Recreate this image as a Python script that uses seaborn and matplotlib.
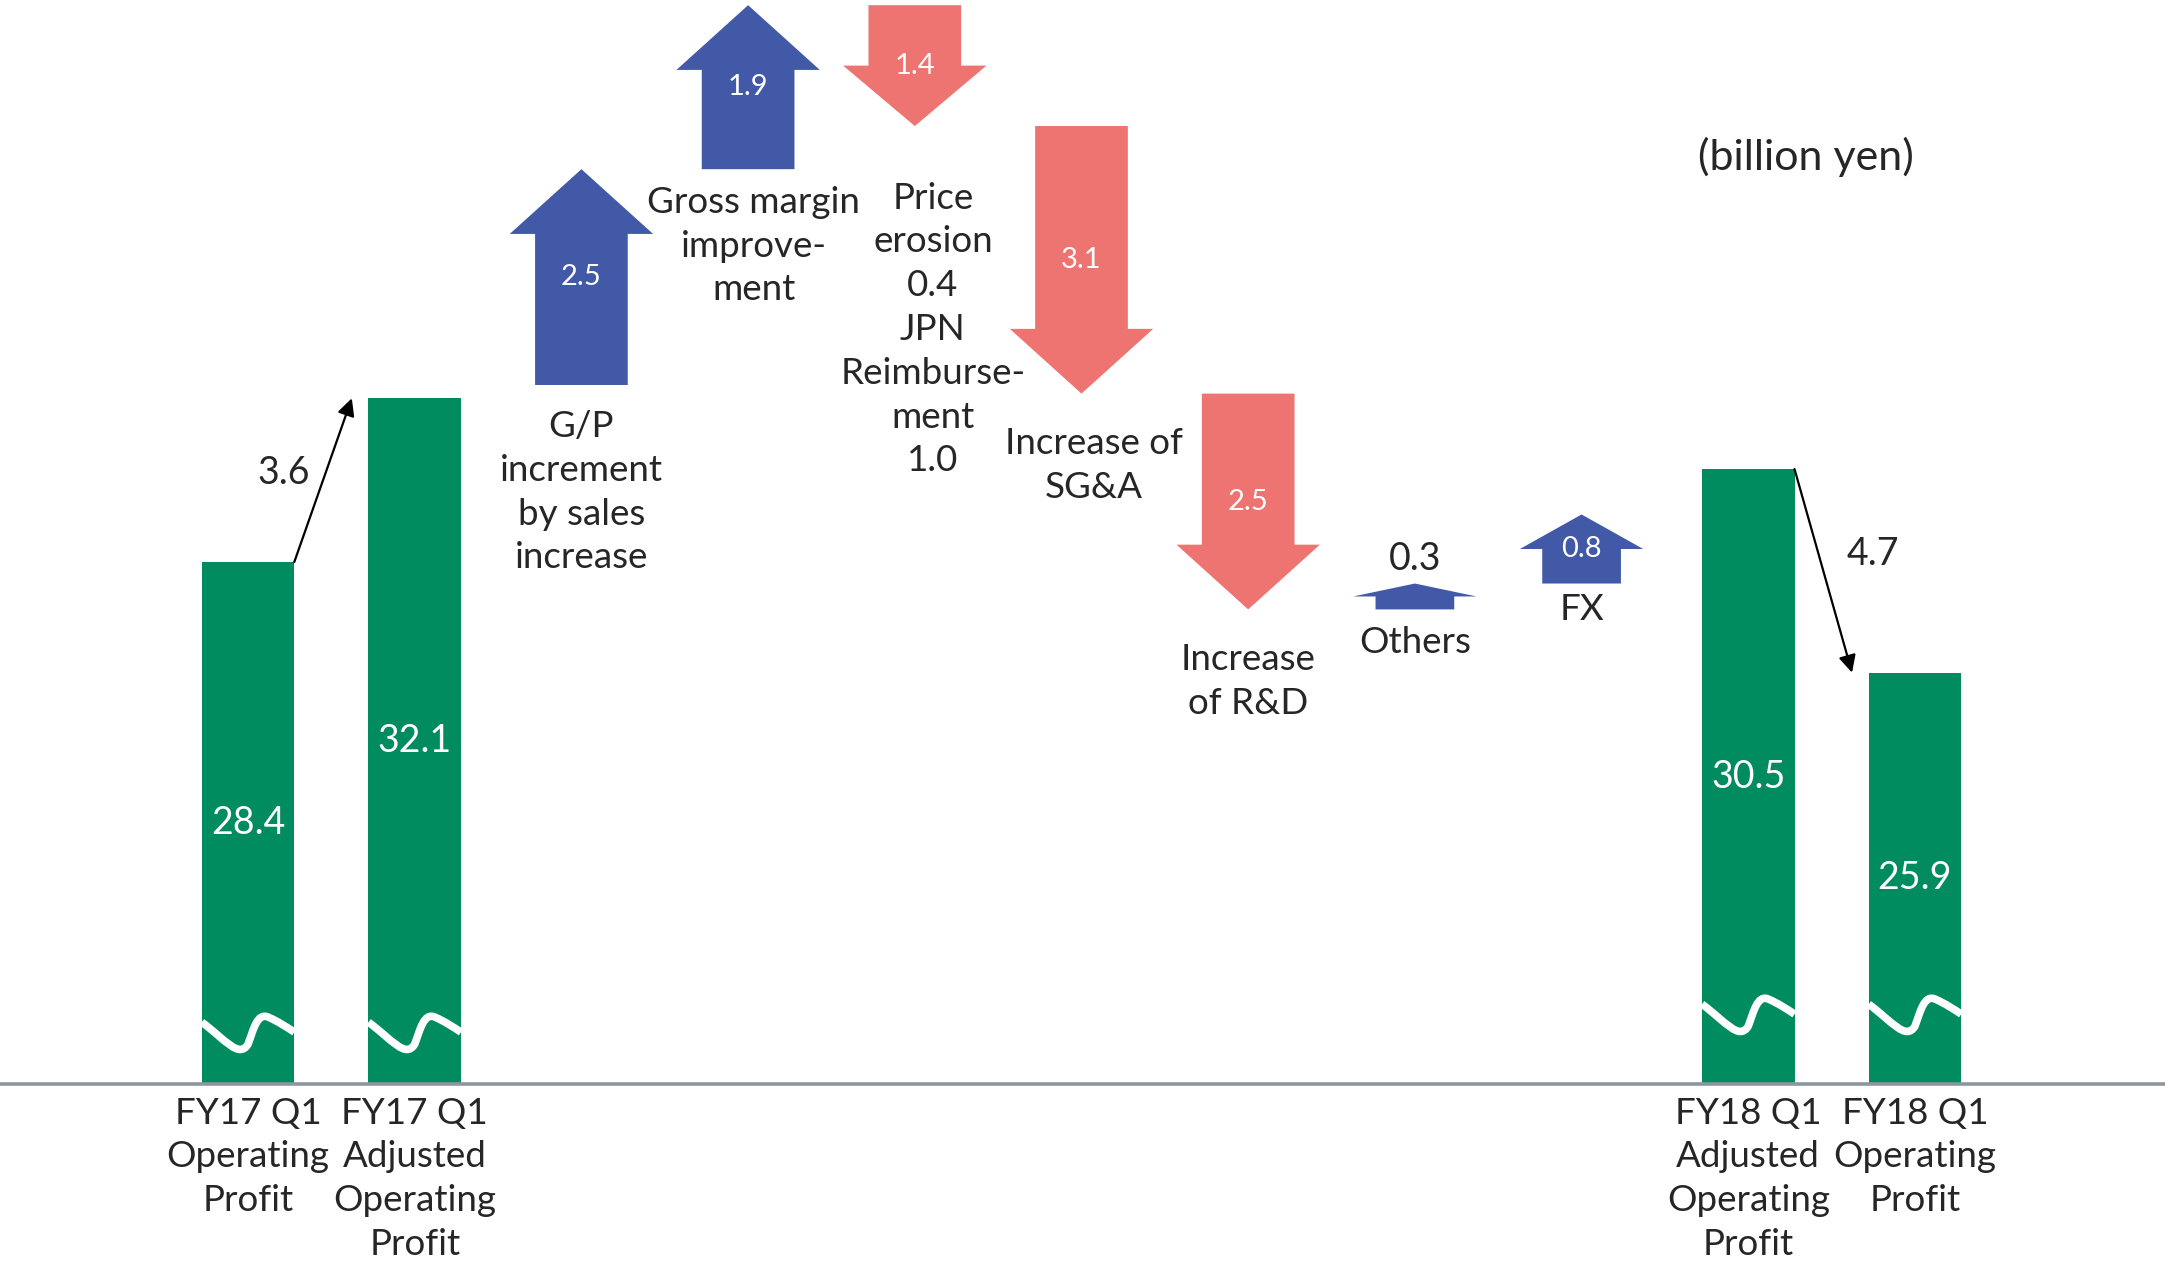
import numpy as np
import pandas as pd
import matplotlib
matplotlib.use("Agg")
import matplotlib.pyplot as plt
import seaborn as sns
from matplotlib.patches import Polygon, PathPatch
from matplotlib.path import Path

# ---------------- data ----------------
total_labels = ["FY17 Q1\nOperating\nProfit",
                "FY17 Q1\nAdjusted\nOperating\nProfit",
                "FY18 Q1\nAdjusted\nOperating\nProfit",
                "FY18 Q1\nOperating\nProfit"]
total_values = [28.4, 32.1, 30.5, 25.9]

step_labels = ["G/P\nincrement\nby sales\nincrease",
               "Gross margin\nimprove-\nment",
               "Price\nerosion\n0.4\nJPN\nReimburse-\nment\n1.0",
               "Increase of\nSG&A",
               "Increase\nof R&D",
               "Others",
               "FX"]
step_values = [2.5, 1.9, -1.4, -3.1, -2.5, 0.3, 0.8]

adjust_labels = ["3.6", "4.7"]
unit_label = "(billion yen)"

order = total_labels[:2] + step_labels + total_labels[2:]

# ---------------- style ----------------
GREEN = "#008C5F"
BLUE = "#4159A7"
RED = "#EE7471"
GRAY = "#8C96A0"

sns.set_style("white")
plt.rcParams["font.family"] = ["Lato", "DejaVu Sans"]

W, H, DPI = 2165, 1274, 100
fig = plt.figure(figsize=(W / DPI, H / DPI), dpi=DPI)
base_frac = 0.149
ax = fig.add_axes([0, base_frac, 1, 1 - base_frac])

BAR_W = 0.555
df = pd.DataFrame({"label": total_labels, "value": total_values})
sns.barplot(data=df, x="label", y="value", order=order, color=GREEN,
            saturation=1, width=BAR_W, linewidth=0, ax=ax, zorder=2)

ybot, ytop = 16.6, 41.1
ax.set_ylim(ybot, ytop)
ax.set_xlim(-1.488, 11.5)
ax.set_xticks([])
ax.set_yticks([])
ax.set_xlabel("")
ax.set_ylabel("")
for s in ["top", "left", "right"]:
    ax.spines[s].set_visible(False)
ax.spines["bottom"].set_color(GRAY)
ax.spines["bottom"].set_linewidth(2.6)
ax.spines["bottom"].set_zorder(5)

ax_h_px = H * (1 - base_frac)
units_per_px = (ytop - ybot) / ax_h_px

pos = {lab: i for i, lab in enumerate(order)}
half_bar = BAR_W / 2

FS = 26.5
LS = 1.4

# bar value labels, category labels, break waves
wave_ctrl = [(0.0, 62), (0.25, 45), (0.40, 25), (0.50, 40),
             (0.56, 55), (0.60, 72), (0.72, 67),
             (0.82, 63), (0.92, 57), (1.0, 52)]
wave_codes = [Path.MOVETO] + [Path.CURVE4] * 9
wave_shift = [0, 0, 18, 18]
for k, (lab, v) in enumerate(zip(total_labels, total_values)):
    x = pos[lab]
    ax.text(x, (v + ybot) / 2, f"{v:.1f}", color="white", fontsize=27,
            ha="center", va="center", zorder=4)
    ax.annotate(lab, xy=(x, 0), xycoords=("data", "axes fraction"),
                xytext=(0, -9), textcoords="offset points",
                ha="center", va="top", fontsize=FS, linespacing=LS,
                annotation_clip=False)
    verts = [(x - half_bar + u * 2 * half_bar,
              ybot + (h + wave_shift[k]) * units_per_px) for u, h in wave_ctrl]
    ax.add_patch(PathPatch(Path(verts, wave_codes), fill=False,
                           edgecolor="white", lw=5.5, zorder=3,
                           capstyle="butt"))

# adjustment arrows between totals
pairs = [(0, 1, (-28, 5)), (2, 3, (36, 12))]
for (a, b, off), txt in zip(pairs, adjust_labels):
    xa, xb = pos[total_labels[a]], pos[total_labels[b]]
    va_, vb_ = total_values[a], total_values[b]
    start = (xa + half_bar, va_)
    end = (xb - half_bar - 0.1, vb_)
    ax.annotate("", xy=end, xytext=start,
                arrowprops=dict(arrowstyle="-|>", color="black", lw=1.6,
                                mutation_scale=26, shrinkA=0, shrinkB=0),
                zorder=4)
    mid = ((start[0] + end[0]) / 2, (start[1] + end[1]) / 2)
    ax.annotate(txt, xy=mid, xytext=off, textcoords="offset points",
                ha="center", va="center", fontsize=27)

# ---------------- waterfall arrows (secondary scale) ----------------
ax2 = ax.twinx()
ax2.set_ylim(24.0, 36.56)
ax2.set_yticks([])
for s in ax2.spines.values():
    s.set_visible(False)

# label nudges (points) for the step captions
nudge = [(0, -6), (4, 0), (13, -16), (9, 0), (0, 0), (0, 0), (0, 5)]

cum = total_values[1]
for (lab, v), (dx, dy) in zip(zip(step_labels, step_values), nudge):
    x = pos[lab]
    y0, y1 = cum, cum + v
    L = abs(v)
    d = np.sign(v)
    head = min(0.75, 0.5 * L)
    if L < 1:
        sw, hw = 0.236, 0.37
    else:
        sw, hw = 0.278, 0.43
    yb = y1 - d * head
    pts = [(x - sw, y0), (x + sw, y0), (x + sw, yb), (x + hw, yb),
           (x, y1), (x - hw, yb), (x - sw, yb)]
    col = BLUE if v > 0 else RED
    ax2.add_patch(Polygon(pts, closed=True, facecolor=col,
                          edgecolor="none", zorder=3))
    if L >= 0.5:
        ax2.text(x, (y0 + y1) / 2, f"{L:.1f}", color="white", fontsize=21,
                 ha="center", va="center", zorder=4)
    else:
        ax2.annotate(f"{L:.1f}", xy=(x, y1), xytext=(0, 5),
                     textcoords="offset points", ha="center", va="bottom",
                     fontsize=27)
    lower = min(y0, y1)
    gap = 12 if v > 0 else 24
    ax2.annotate(lab, xy=(x, lower), xytext=(dx, -gap + dy),
                 textcoords="offset points", ha="center", va="top",
                 fontsize=FS, linespacing=LS, multialignment="center")
    cum = y1

fig.text(0.834, 0.877, unit_label, ha="center", va="center", fontsize=31)

fig.savefig("out.png", dpi=DPI, facecolor="white")
